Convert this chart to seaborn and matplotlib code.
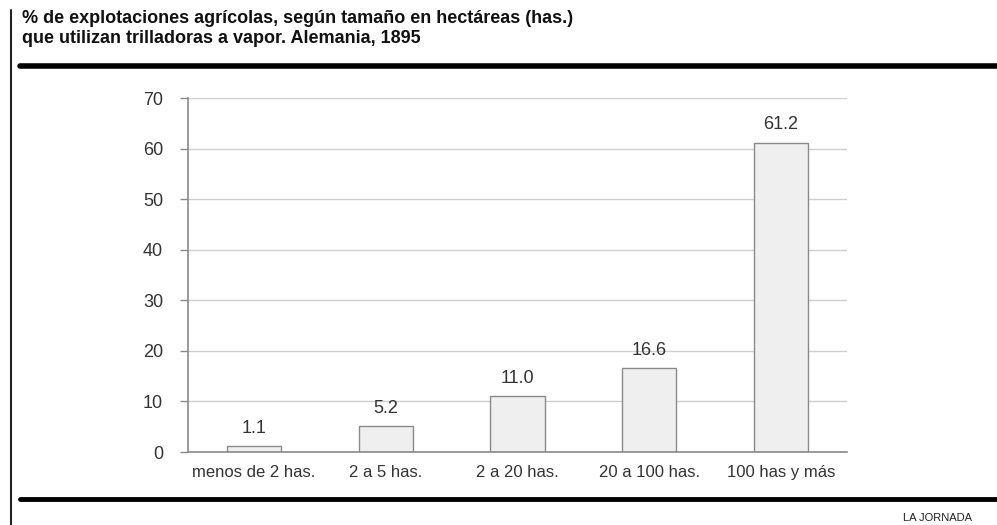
import matplotlib
matplotlib.use("Agg")
import matplotlib.pyplot as plt
import seaborn as sns
import pandas as pd
from matplotlib.lines import Line2D

# Datos
categorias = ["menos de 2 has.", "2 a 5 has.", "2 a 20 has.", "20 a 100 has.", "100 has y más"]
porcentajes = [1.1, 5.2, 11.0, 16.6, 61.2]
ticks_y = [0, 10, 20, 30, 40, 50, 60, 70]

titulo = ("% de explotaciones agrícolas, según tamaño en hectáreas (has.)\n"
          "que utilizan trilladoras a vapor. Alemania, 1895")
fuente = "LA JORNADA"

sns.set_theme(style="white")
plt.rcParams['font.family'] = ['Liberation Sans', 'DejaVu Sans']

df = pd.DataFrame({"categoria": categorias, "valor": porcentajes})

fig = plt.figure(figsize=(9.97, 5.25), dpi=100)
ax = fig.add_axes([0.1886, 0.139, 0.6609, 0.6743])

sns.barplot(data=df, x="categoria", y="valor", ax=ax, color="#efefef",
            edgecolor="#8a8a8a", linewidth=1.0, width=0.41, saturation=1)

ax.set_ylim(0, 70)
ax.set_xlim(-0.5, len(categorias) - 0.5)
ax.set_yticks(ticks_y)
ax.yaxis.grid(True, color="#cfcfcf", linewidth=1)
ax.set_axisbelow(True)
ax.set_xlabel("")
ax.set_ylabel("")

for s in ["top", "right"]:
    ax.spines[s].set_visible(False)
for s in ["left", "bottom"]:
    ax.spines[s].set_color("#8a8a8a")
    ax.spines[s].set_linewidth(1.2)

# ticks del eje x en los límites de cada categoría
ax.set_xticks([i - 0.5 for i in range(len(categorias) + 1)], minor=True)
ax.set_xticks(range(len(categorias)))
ax.set_xticklabels(categorias, fontsize=12, color="#333333")
ax.tick_params(axis="x", which="major", length=0, pad=9)
ax.tick_params(axis="x", which="minor", length=4, color="#8a8a8a", width=1.2, direction="out")
ax.tick_params(axis="y", length=6, color="#8a8a8a", width=1, labelsize=13,
               labelcolor="#333333", pad=12, left=True)

for i, v in enumerate(porcentajes):
    ax.text(i, v + 1.8, f"{v:.1f}", ha="center", va="bottom", fontsize=13, color="#333333")

# Título y decoraciones
fig.text(0.022, 1 - 10 / 525, titulo, ha="left", va="top", fontsize=13, fontweight="bold",
         color="#111111", linespacing=1.2)

fig.add_artist(Line2D([0.011, 0.011], [0.0, 1 - 10 / 525], transform=fig.transFigure,
                      color="#222222", linewidth=1.5))
fig.add_artist(Line2D([0.02, 1.0], [1 - 66 / 525, 1 - 66 / 525], transform=fig.transFigure,
                      color="#000000", linewidth=4))
fig.add_artist(Line2D([0.02, 1.0], [1 - 499 / 525, 1 - 499 / 525], transform=fig.transFigure,
                      color="#000000", linewidth=3.5))

fig.text(0.975, 1 - 518 / 525, fuente, ha="right", va="center", fontsize=8, color="#222222")

fig.savefig("out.png", dpi=100)
